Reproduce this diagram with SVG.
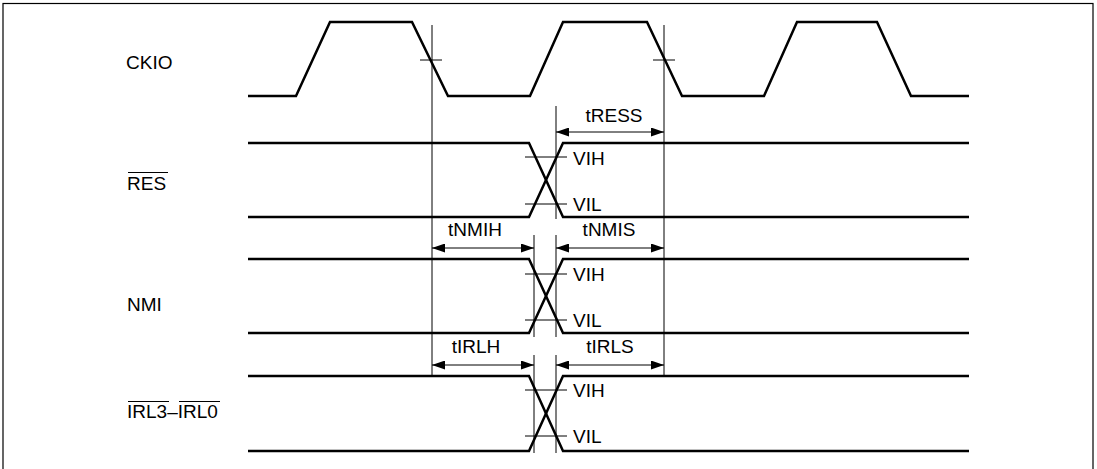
<svg xmlns="http://www.w3.org/2000/svg" width="1097" height="469" viewBox="0 0 1097 469">
<style>
.sig{fill:none;stroke:#000;stroke-width:2.5;stroke-linejoin:miter}
.thin{fill:none;stroke:#000;stroke-width:1}
text{font-family:"Liberation Sans",Arial,sans-serif;font-size:19px;fill:#000}
.mid{text-anchor:middle}
</style>
<defs>
<marker id="ah" viewBox="0 0 13 9" refX="13" refY="4.5" markerWidth="13" markerHeight="9" markerUnits="userSpaceOnUse" orient="auto-start-reverse">
<path d="M0,0 L13,4.5 L0,9 Z" fill="#000"/>
</marker>
</defs>
<rect x="3" y="3.5" width="1090" height="480" fill="#fff" stroke="#000" stroke-width="1.2"/>
<g id="CKIO">
<text x="126" y="69">CKIO</text>
<path class="sig" d="M248,96 H296 L330,22 H412 L448,96 H530 L563,22 H647 L682,96 H764 L797,22 H877 L911,96 H969"/>
</g>
<g id="RES">
<text x="127" y="190">RES</text>
<line class="thin" x1="128" y1="172.5" x2="168" y2="172.5"/>
<path class="sig" d="M248,143 H529 L563,217 H969"/>
<path class="sig" d="M248,217 H529 L563,143 H969"/>
<line class="thin" x1="525" y1="157" x2="567" y2="157"/>
<line class="thin" x1="525" y1="204" x2="567" y2="204"/>
<text x="573" y="165">VIH</text>
<text x="573" y="211">VIL</text>
</g>
<g id="NMI">
<text x="127" y="311">NMI</text>
<path class="sig" d="M248,259 H529 L563,333 H969"/>
<path class="sig" d="M248,333 H529 L563,259 H969"/>
<line class="thin" x1="525" y1="274" x2="567" y2="274"/>
<line class="thin" x1="525" y1="320" x2="567" y2="320"/>
<text x="573" y="281">VIH</text>
<text x="573" y="327">VIL</text>
</g>
<g id="IRL">
<text x="127" y="418">IRL3–IRL0</text>
<line class="thin" x1="128" y1="401.5" x2="169" y2="401.5"/>
<line class="thin" x1="179" y1="401.5" x2="220" y2="401.5"/>
<path class="sig" d="M248,376 H529 L563,451 H969"/>
<path class="sig" d="M248,451 H529 L563,376 H969"/>
<line class="thin" x1="525" y1="390" x2="567" y2="390"/>
<line class="thin" x1="525" y1="436" x2="567" y2="436"/>
<text x="573" y="397">VIH</text>
<text x="573" y="443">VIL</text>
</g>
<g id="connectors">
<line class="thin" x1="432" y1="25" x2="432" y2="375"/>
<line class="thin" x1="664" y1="25" x2="664" y2="375"/>
<line class="thin" x1="420" y1="60" x2="442" y2="60"/>
<line class="thin" x1="653" y1="60" x2="675" y2="60"/>
<line class="thin" x1="556" y1="106" x2="556" y2="219"/>
<line class="thin" x1="556" y1="235" x2="556" y2="337"/>
<line class="thin" x1="534" y1="235" x2="534" y2="337"/>
<line class="thin" x1="556" y1="355" x2="556" y2="453"/>
<line class="thin" x1="534" y1="355" x2="534" y2="453"/>
<line class="thin" x1="556" y1="132" x2="664" y2="132" marker-start="url(#ah)" marker-end="url(#ah)"/>
<text class="mid" x="614" y="122">tRESS</text>
<line class="thin" x1="432" y1="248" x2="534" y2="248" marker-start="url(#ah)" marker-end="url(#ah)"/>
<text class="mid" x="475" y="236">tNMIH</text>
<line class="thin" x1="556" y1="248" x2="664" y2="248" marker-start="url(#ah)" marker-end="url(#ah)"/>
<text class="mid" x="609" y="236">tNMIS</text>
<line class="thin" x1="432" y1="365" x2="534" y2="365" marker-start="url(#ah)" marker-end="url(#ah)"/>
<text class="mid" x="476" y="353">tIRLH</text>
<line class="thin" x1="556" y1="365" x2="664" y2="365" marker-start="url(#ah)" marker-end="url(#ah)"/>
<text class="mid" x="610" y="353">tIRLS</text>
</g>
</svg>
